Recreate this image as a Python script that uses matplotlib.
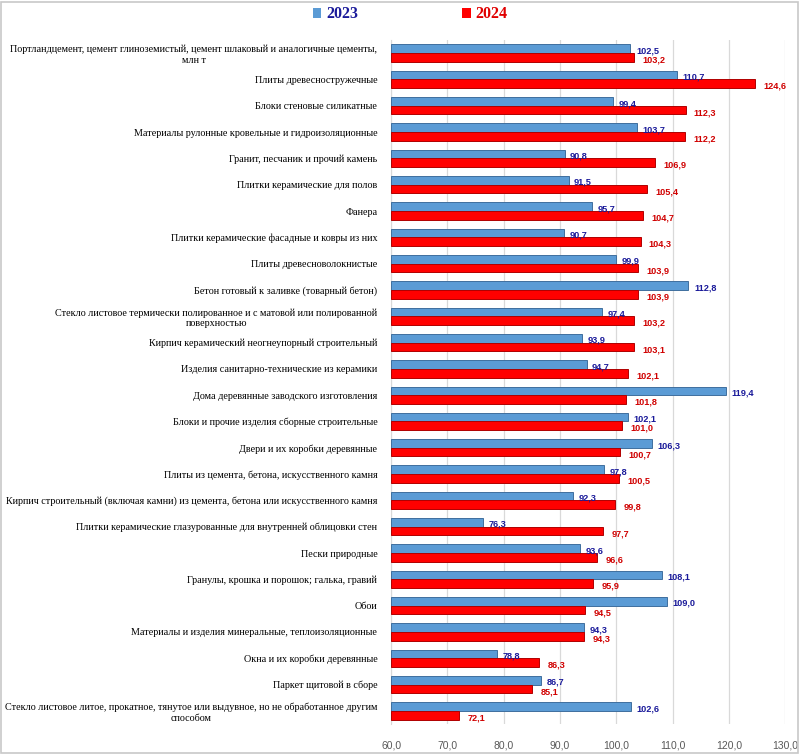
import numpy as np
from matplotlib import pyplot as plt
from matplotlib.patches import Rectangle, Patch


categories = [
    "Портландцемент, цемент глиноземистый, цемент шлаковый и аналогичные цементы,\nмлн т",
    "Плиты древесностружечные",
    "Блоки стеновые силикатные",
    "Материалы рулонные кровельные и гидроизоляционные",
    "Гранит, песчаник и прочий камень",
    "Плитки керамические для полов",
    "Фанера",
    "Плитки керамические фасадные и ковры из них",
    "Плиты древесноволокнистые",
    "Бетон готовый к заливке (товарный бетон)",
    "Стекло листовое термически полированное и с матовой или полированной\nповерхностью",
    "Кирпич керамический неогнеупорный строительный",
    "Изделия санитарно-технические из керамики",
    "Дома деревянные заводского изготовления",
    "Блоки и прочие изделия сборные строительные",
    "Двери и их коробки деревянные",
    "Плиты из цемента, бетона, искусственного камня",
    "Кирпич строительный (включая камни) из цемента, бетона или искусственного камня",
    "Плитки керамические глазурованные для внутренней облицовки стен",
    "Пески природные",
    "Гранулы, крошка и порошок; галька, гравий",
    "Обои",
    "Материалы и изделия минеральные, теплоизоляционные",
    "Окна и их коробки деревянные",
    "Паркет щитовой в сборе",
    "Стекло листовое литое, прокатное, тянутое или выдувное, но не обработанное другим\nспособом",
]

values_2023 = [102.5, 110.7, 99.4, 103.7, 90.8, 91.5, 95.7, 90.7, 99.9, 112.8,
               97.4, 93.9, 94.7, 119.4, 102.1, 106.3, 97.8, 92.3, 76.3, 93.6,
               108.1, 109.0, 94.3, 78.8, 86.7, 102.6]
values_2024 = [103.2, 124.6, 112.3, 112.2, 106.9, 105.4, 104.7, 104.3, 103.9, 103.9,
               103.2, 103.1, 102.1, 101.8, 101.0, 100.7, 100.5, 99.8, 97.7, 96.6,
               95.9, 94.5, 94.3, 86.3, 85.1, 72.1]

xticks = [60, 70, 80, 90, 100, 110, 120, 130]

blue = '#5B9BD5'
blue_edge = '#3F6F9E'
red = '#FF0000'
red_edge = '#B00000'
blue_text = '#1A1A9A'
red_text = '#D00000'

fig = plt.figure(figsize=(8, 7.55), dpi=100)
ax = fig.add_axes([0.489, 0.041, 0.4925, 0.906])

y = np.arange(len(categories))
h = 0.33
base = 60
w23 = np.array(values_2023) - base
w24 = np.array(values_2024) - base

ax.barh(y - h / 2, w23, height=h, left=base, color=blue,
        edgecolor=blue_edge, linewidth=0.7, zorder=3)
ax.barh(y + h / 2, w24, height=h, left=base, color=red,
        edgecolor=red_edge, linewidth=0.7, zorder=3)

for yi, v in zip(y, values_2023):
    ax.annotate(f"{v:.1f}".replace('.', ','), (v, yi - h / 2 + 0.08),
                xytext=(4, 0), textcoords='offset points', va='center',
                ha='left', fontsize=6.6, color=blue_text, fontweight='bold',
                family='Liberation Sans', zorder=4)
for yi, v in zip(y, values_2024):
    ax.annotate(f"{v:.1f}".replace('.', ','), (v, yi + h / 2 + 0.1),
                xytext=(6, 0), textcoords='offset points', va='center',
                ha='left', fontsize=6.6, color=red_text, fontweight='bold',
                family='Liberation Sans', zorder=4)

ax.set_xlim(60, 130)
ax.set_ylim(len(categories) - 0.5, -0.5)
ax.set_xticks(xticks)
ax.set_xticklabels([f"{t:.1f}".replace('.', ',') for t in xticks],
                   fontsize=7.5, color='#595959', family='Liberation Sans')
ax.set_yticks(y)
ax.set_yticklabels(categories, fontsize=7.25, family='Liberation Serif')
for lbl in ax.get_yticklabels():
    lbl.set_multialignment('center')
    lbl.set_linespacing(1.25)

ax.tick_params(axis='x', length=0, pad=12)
ax.tick_params(axis='y', length=0, pad=10)
ax.grid(axis='x', color='#D9D9D9', linewidth=0.9, zorder=0)
for side in ['top', 'right', 'bottom']:
    ax.spines[side].set_visible(False)
ax.spines['left'].set_color('#D9D9D9')

handles = [Patch(facecolor=blue, edgecolor='none', label='2023'),
           Patch(facecolor=red, edgecolor='none', label='2024')]
leg = fig.legend(handles=handles, loc='center', bbox_to_anchor=(0.5125, 0.981),
                 ncol=2, frameon=False, handlelength=0.55, handleheight=0.55,
                 handletextpad=0.3, columnspacing=6.5,
                 prop={'family': 'Liberation Serif', 'weight': 'bold', 'size': 11.5})
leg.get_texts()[0].set_color('#1A1A9A')
leg.get_texts()[1].set_color('#E00000')

fig.patches.append(Rectangle((0.001, 0.002), 0.996, 0.995, transform=fig.transFigure,
                             fill=False, edgecolor='#C8C8C8', linewidth=1.2))

plt.savefig('out.png', dpi=100)
